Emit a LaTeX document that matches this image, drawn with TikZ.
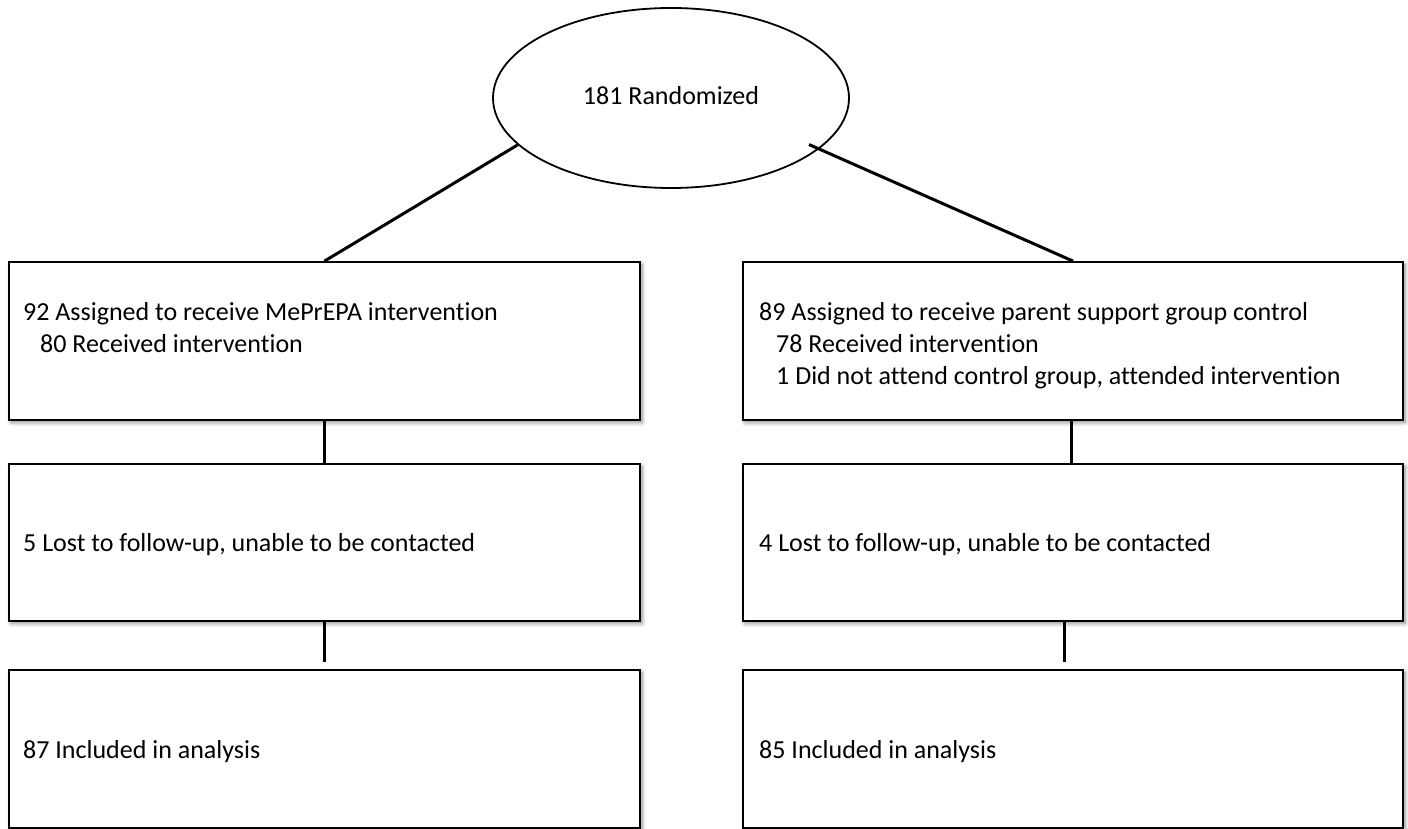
\documentclass[tikz,border=0pt]{standalone}
\usepackage{fontspec}
\setmainfont{Carlito}[Ligatures=NoCommon]
\usetikzlibrary{shapes.geometric,calc,shadows.blur}
\begin{document}
\begin{tikzpicture}[x=1pt,y=-1pt,
  every node/.style={font=\fontsize{26}{32}\selectfont},
  box/.style={draw,line width=1.8pt,fill=white,rectangle,inner sep=0pt,
    blur shadow={shadow xshift=2pt,shadow yshift=-2.5pt,shadow blur radius=4pt,shadow blur steps=8,shadow opacity=45}},
  oval/.style={draw,line width=1.8pt,fill=white,ellipse,inner sep=0pt,minimum width=356pt,minimum height=180pt},
  conn/.style={line width=3pt},
  lbl/.style={anchor=base west,inner sep=0pt,align=left}]
\useasboundingbox (0,0) rectangle (1408,829);
% top oval
\node[oval] (ell) at (671,98) {};
\node[anchor=base,inner sep=0pt] (ellt) at (671,105) {181 Randomized};
% boxes
\node[box,minimum width=631pt,minimum height=158pt] (b1) at (324.5,341) {};
\node[box,minimum width=660pt,minimum height=158pt] (b2) at (1073,341) {};
\node[box,minimum width=631pt,minimum height=157pt] (b3) at (324.5,542.5) {};
\node[box,minimum width=660pt,minimum height=157pt] (b4) at (1073,542.5) {};
\node[box,minimum width=631pt,minimum height=158pt] (b5) at (324.5,749) {};
\node[box,minimum width=660pt,minimum height=158pt] (b6) at (1073,749) {};
% texts (multi-line nodes: base = last line)
\node[lbl] (t1) at (23,352) {92 Assigned to receive MePrEPA intervention\\\hspace*{17pt}80 Received intervention};
\node[lbl] (t2) at (759,384) {89 Assigned to receive parent support group control\\\hspace*{17pt}78 Received intervention\\\hspace*{17pt}1 Did not attend control group, attended intervention};
\node[lbl] (t3) at (23,551) {5 Lost to follow-up, unable to be contacted};
\node[lbl] (t4) at (759,551) {4 Lost to follow-up, unable to be contacted};
\node[lbl] (t5) at (23,758) {87 Included in analysis};
\node[lbl] (t6) at (759,758) {85 Included in analysis};
% connectors
\draw[conn] (ell.197) -- (b1.north);
\draw[conn,shorten <=-11pt] (ell.341) -- (b2.north);
\draw[conn] (b1.south) -- (b3.north);
\draw[conn] ($(b2.south)+(-2,0)$) -- ($(b4.north)+(-2,2)$);
\draw[conn] (b3.south) -- ($(b5.north)+(0,-7)$);
\draw[conn] ($(b4.south)+(-9,0)$) -- ($(b6.north)+(-9,-7)$);
\end{tikzpicture}
\end{document}
